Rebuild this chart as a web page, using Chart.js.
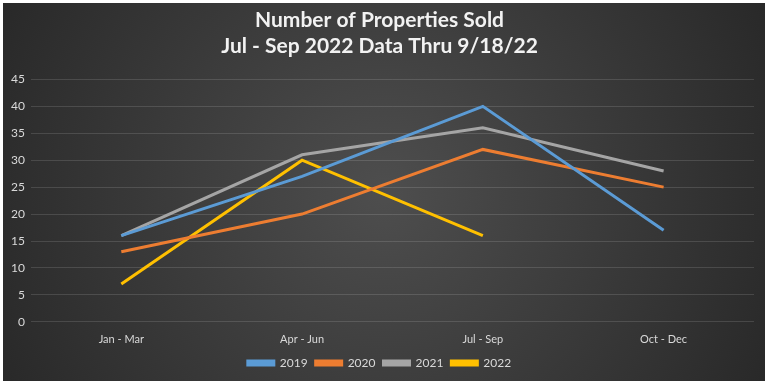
<!DOCTYPE html>
<html>
<head>
<meta charset="utf-8">
<script src="https://cdn.jsdelivr.net/npm/chart.js@4"></script>
<style>
    body { margin: 0; background: #fff; }
    #wrap { position: absolute; left: 3px; top: 3px; width: 762px; height: 378px; }
</style>
</head>
<body>
<div id="wrap"><canvas id="salesChart"></canvas></div>
<script>
const quarters = ['Jan - Mar', 'Apr - Jun', 'Jul - Sep', 'Oct - Dec'];
const sold2019 = [16, 27, 40, 17];
const sold2020 = [13, 20, 32, 25];
const sold2021 = [16, 31, 36, 28];
const sold2022 = [7, 30, 16, null];

// dark radial background like the Excel style
const bgPlugin = {
    id: 'bg',
    beforeDraw(chart) {
        const c = chart.ctx;
        const w = chart.width, h = chart.height;
        c.save();
        const g = c.createRadialGradient(w / 2, h / 2, 10, w / 2, h / 2, w * 0.6);
        g.addColorStop(0, '#4d4d4d');
        g.addColorStop(1, '#262626');
        c.fillStyle = g;
        c.fillRect(0, 0, w, h);
        c.restore();
    }
};

const lineStyle = { borderWidth: 3, pointRadius: 0, fill: false, tension: 0 };

const ctx = document.getElementById('salesChart').getContext('2d');
const salesChart = new Chart(ctx, {
    type: 'line',
    data: {
        labels: quarters,
        datasets: [
            { label: '2019', data: sold2019, borderColor: '#5b9bd5', backgroundColor: '#5b9bd5', ...lineStyle },
            { label: '2020', data: sold2020, borderColor: '#ed7d31', backgroundColor: '#ed7d31', ...lineStyle },
            { label: '2021', data: sold2021, borderColor: '#a5a5a5', backgroundColor: '#a5a5a5', ...lineStyle },
            { label: '2022', data: sold2022, borderColor: '#ffc000', backgroundColor: '#ffc000', ...lineStyle },
        ],
    },
    options: {
        responsive: true,
        maintainAspectRatio: false,
        animation: false,
        layout: { padding: { left: 2, right: 11, top: 2, bottom: 2 } },
        plugins: {
            title: {
                display: true,
                text: ['Number of Properties Sold', 'Jul - Sep 2022 Data Thru 9/18/22'],
                color: '#f2f2f2',
                font: { family: 'Lato', size: 21, weight: 'bold', lineHeight: 1.2 },
                padding: { top: 3, bottom: 21 },
            },
            legend: {
                position: 'bottom',
                labels: {
                    color: '#d9d9d9',
                    font: { family: 'Lato', size: 12 },
                    boxWidth: 26,
                    boxHeight: 4,
                    padding: 8,
                },
            },
            tooltip: { enabled: false },
        },
        scales: {
            x: {
                offset: true,
                grid: { display: false },
                border: { display: false },
                ticks: { color: '#d9d9d9', font: { family: 'Lato', size: 11 }, padding: 3 },
            },
            y: {
                min: 0,
                max: 45,
                ticks: { stepSize: 5, color: '#d9d9d9', font: { family: 'Lato', size: 12 }, padding: 6 },
                grid: { color: 'rgba(255,255,255,0.13)', lineWidth: 1, drawTicks: false },
                border: { display: false },
            },
        },
    },
    plugins: [bgPlugin],
});
</script>
</body>
</html>
